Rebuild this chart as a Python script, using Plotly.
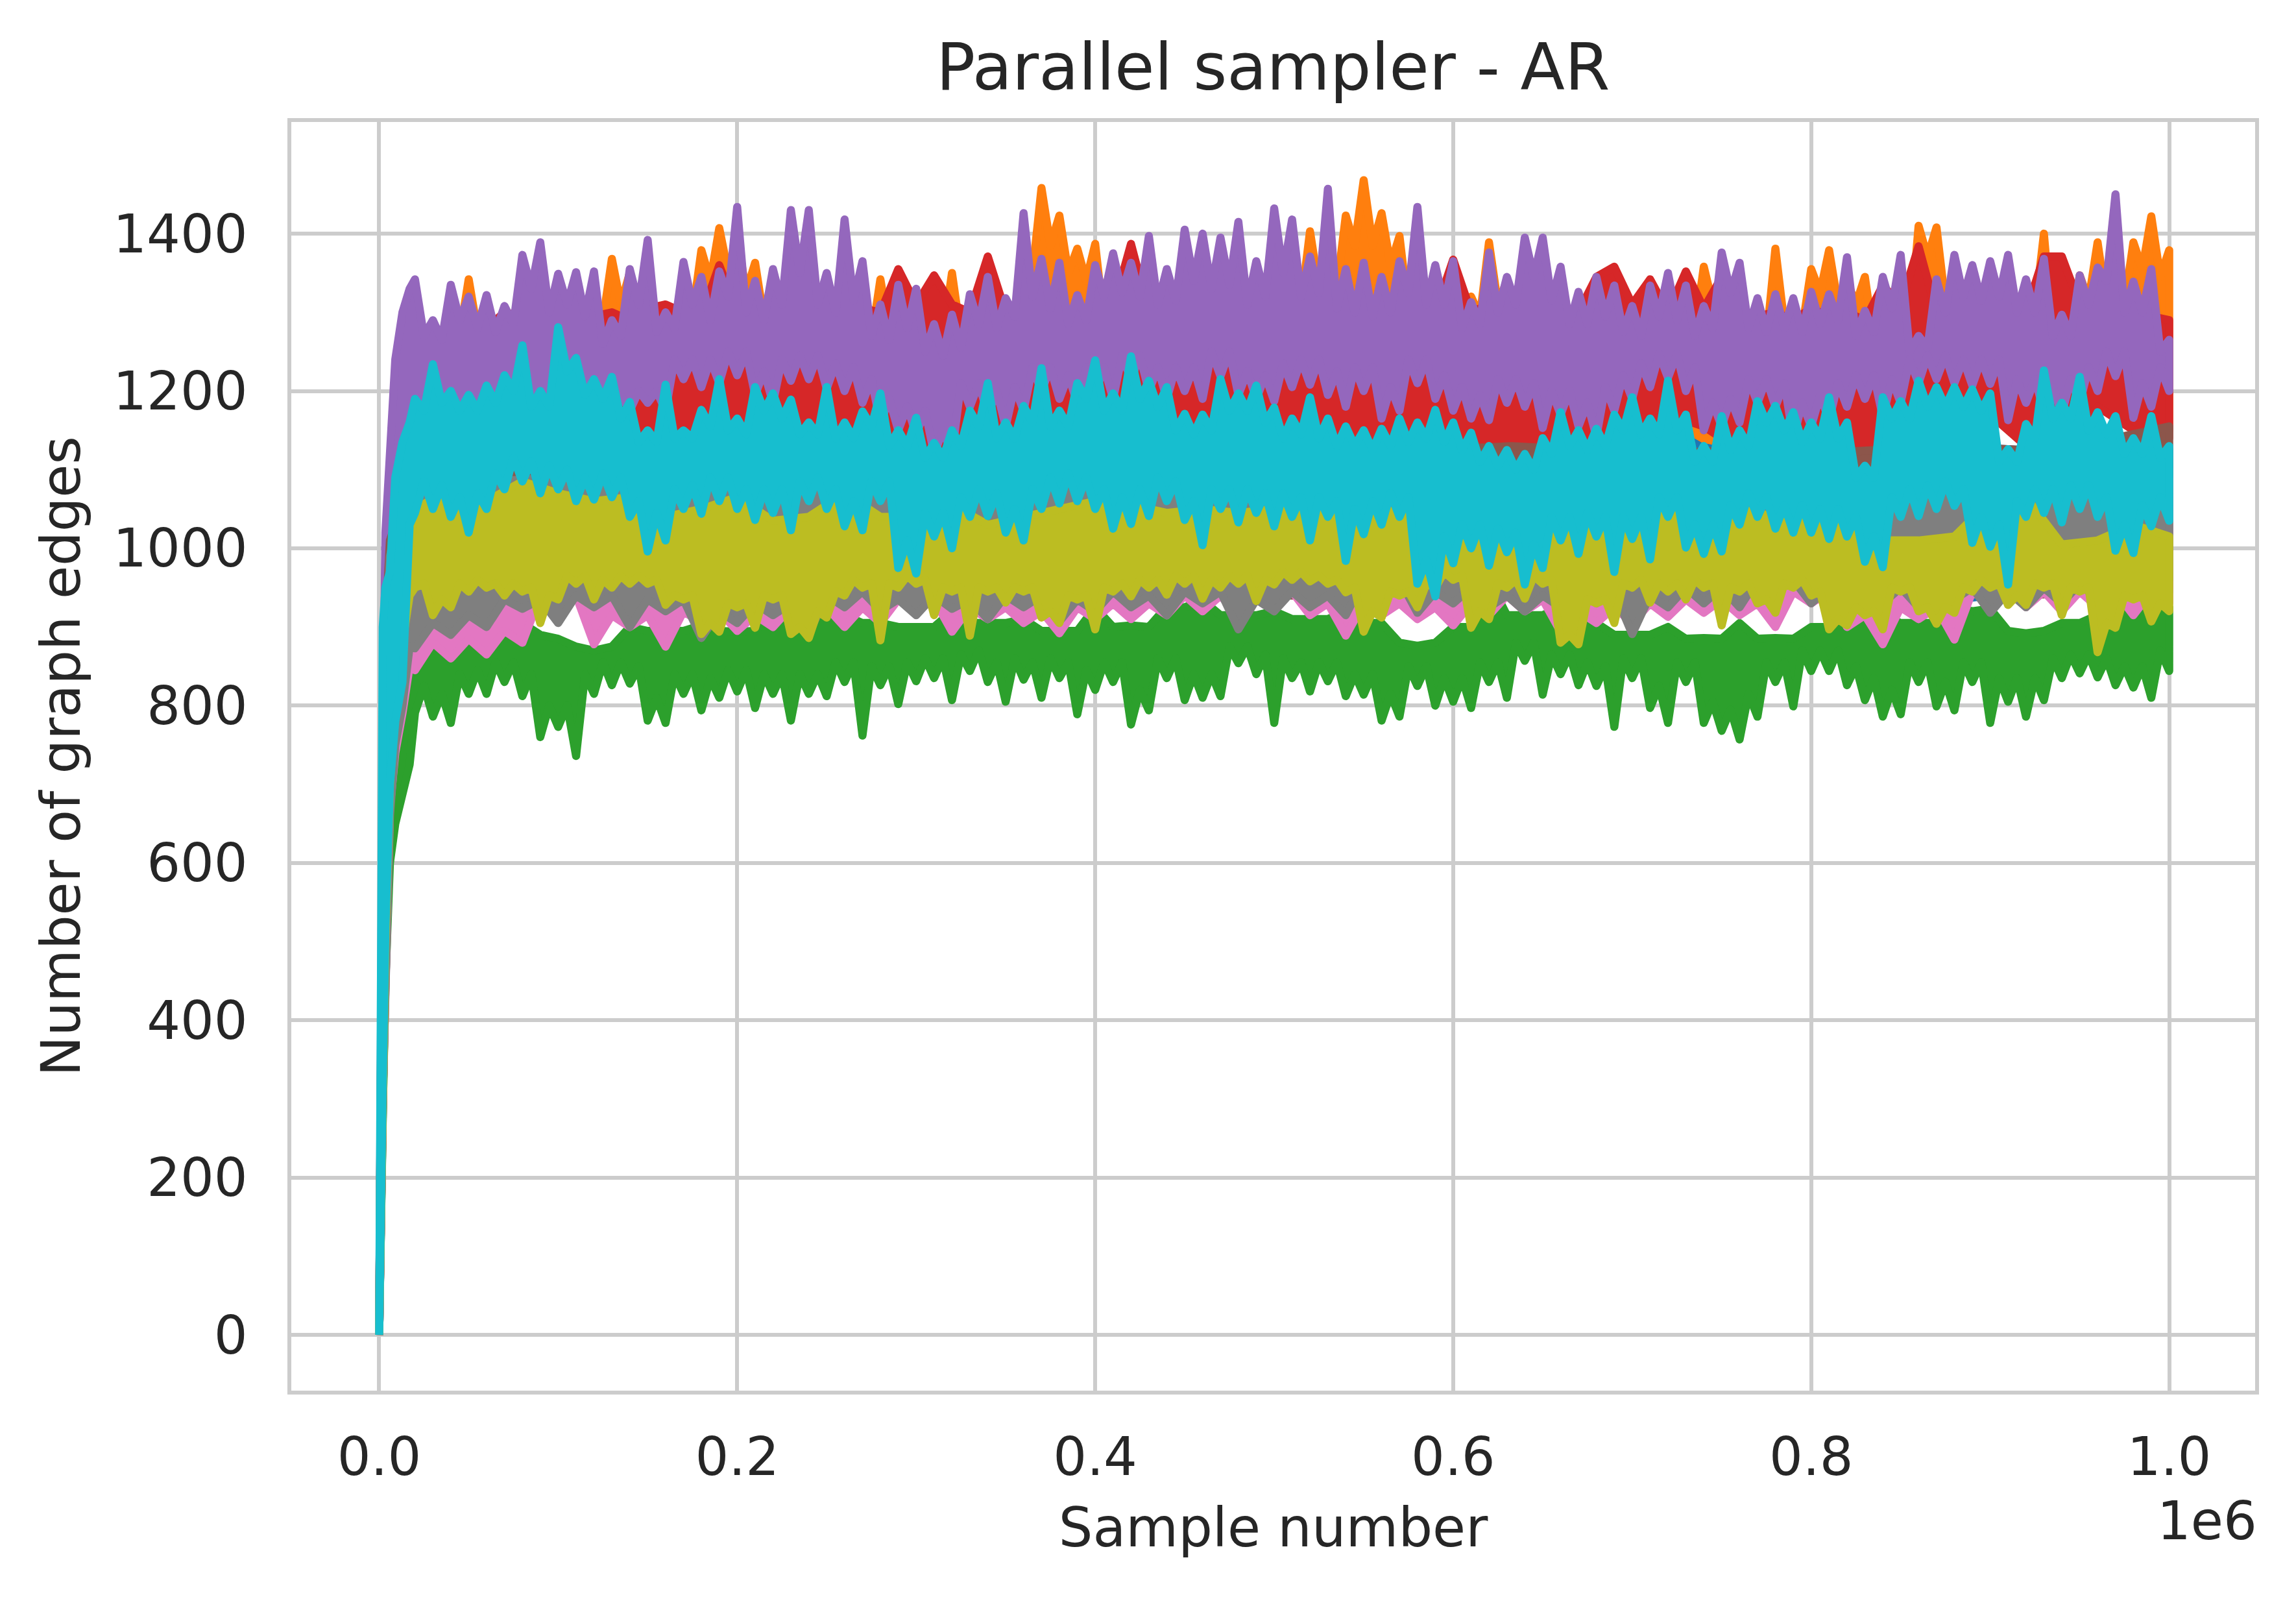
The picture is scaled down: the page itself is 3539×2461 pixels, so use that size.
import numpy as np
import plotly.graph_objects as go

rise_x = [0, 1000, 2000, 3500, 6000, 9000, 13000, 17000]
rise_down_x = [17000, 13000, 9000, 6000, 3500, 2000, 1000, 0]
x_ticks = [0, 200000, 400000, 600000, 800000, 1000000]
x_labels = ["0.0", "0.2", "0.4", "0.6", "0.8", "1.0"]
y_ticks = [0, 200, 400, 600, 800, 1000, 1200, 1400]

blue_rise_up = [0, 380, 640, 820, 960, 1040, 1090, 1110]
blue_rise_down = [850, 780, 730, 660, 480, 300, 150, 0]
blue_high = [1110, 1120, 1125, 1115, 1120, 1130, 1125, 1120, 1130, 1125, 1115, 1120, 1125, 1130, 1120, 1130, 1125, 1120, 1160, 1125, 1120, 1130, 1125, 1135, 1125]
blue_low = [925, 930, 945, 940, 950, 945, 940, 950, 945, 934, 945, 950, 940, 945, 950, 945, 940, 950, 945, 950, 940, 934, 945, 950, 945]

orange_rise_up = [0, 420, 700, 900, 1050, 1150, 1240, 1280]
orange_rise_down = [1130, 1000, 860, 720, 520, 320, 160, 0]
orange_high = [1290, 1285, 1300, 1342, 1300, 1302, 1310, 1320, 1300, 1305,
               1320, 1368, 1350, 1310, 1300, 1330, 1379, 1407, 1397, 1363,
               1320, 1300, 1290, 1305, 1300, 1295, 1342, 1305, 1295, 1300,
               1350, 1300, 1290, 1300, 1381, 1458, 1423, 1381, 1387, 1310,
               1320, 1300, 1340, 1376, 1370, 1320, 1375, 1345, 1330, 1340,
               1403, 1360, 1423, 1468, 1426, 1397, 1330, 1300, 1310, 1320,
               1389, 1340, 1320, 1310, 1300, 1290, 1300, 1295, 1290, 1285,
               1290, 1300, 1358, 1340, 1300, 1290, 1381, 1310, 1355, 1379,
               1340, 1345, 1295, 1300, 1410, 1408, 1340, 1340, 1315, 1350,
               1330, 1400, 1300, 1347, 1389, 1340, 1389, 1422, 1379]
orange_high_dips = [1255, 1260, 1270, 1275, 1270, 1275, 1280, 1270, 1270,
                    1280, 1290, 1310, 1280, 1270, 1270, 1295, 1340, 1350, 1325,
                    1290, 1270, 1260, 1260, 1270, 1265, 1265, 1275, 1265, 1265,
                    1270, 1270, 1260, 1260, 1275, 1350, 1385, 1350, 1340, 1285,
                    1280, 1270, 1270, 1310, 1330, 1290, 1295, 1315, 1300, 1300,
                    1310, 1330, 1330, 1385, 1385, 1360, 1300, 1270, 1270, 1280,
                    1295, 1310, 1290, 1280, 1270, 1260, 1260, 1265, 1260, 1255,
                    1255, 1260, 1275, 1310, 1270, 1260, 1265, 1285, 1280, 1325,
                    1310, 1310, 1265, 1265, 1275, 1370, 1310, 1305, 1285, 1285,
                    1300, 1300, 1270, 1270, 1315, 1310, 1310, 1355, 1345]
orange_low = [1150, 1160, 1140, 1135, 1130, 1140, 1125, 1130, 1140, 1135,
              1130, 1125, 1135, 1140, 1130, 1125, 1135, 1140, 1130, 1140,
              1135, 1130, 1125, 1135, 1155, 1140, 1130, 1135, 1128, 1135,
              1130, 1125, 1155, 1140, 1130, 1165, 1139, 1130, 1135, 1125,
              1130, 1135, 1140, 1130, 1170, 1135, 1130, 1185, 1160, 1150]

green_rise_up = [0, 300, 500, 620, 700, 760, 800, 835]
green_rise_down = [725, 690, 650, 600, 450, 280, 140, 0]
green_high = [860, 895, 918, 905, 885, 870, 900, 895, 902, 894, 918, 925, 915, 905, 900, 920, 905, 910,
              895, 925, 902, 926, 934, 915, 920, 910, 920, 905, 876, 900, 960, 915, 925, 905, 890, 900,
              886, 905, 886, 900, 934, 915, 905, 925, 923, 892, 905, 915, 920, 925]
green_high_dips = [870, 900, 905, 890, 875, 875, 895, 895, 895, 895, 915, 915, 905, 900, 900, 905, 905,
                   895, 895, 900, 900, 925, 915, 915, 910, 910, 905, 880, 880, 900, 915, 915, 905,
                   890, 890, 885, 885, 885, 885, 900, 915, 905, 905, 920, 895, 895, 905, 915, 920]
green_low = [791, 786, 778, 815, 815, 830, 812, 760, 773, 736,
             815, 826, 828, 781, 778, 815, 794, 810, 818, 797,
             815, 781, 815, 812, 830, 762, 826, 802, 831, 835,
             807, 844, 830, 805, 833, 810, 835, 789, 820, 830,
             776, 794, 835, 807, 810, 812, 854, 840, 778, 835,
             818, 831, 812, 814, 781, 786, 825, 800, 805, 797,
             830, 810, 857, 814, 840, 826, 825, 773, 835, 797,
             778, 830, 778, 768, 757, 786, 830, 799, 844, 844,
             826, 807, 786, 789, 830, 799, 794, 830, 778, 805,
             786, 807, 835, 841, 836, 826, 823, 810, 844]
green_low_rises = [825, 815, 840, 845, 855, 855, 840, 800, 800,
                   840, 855, 855, 850, 810, 840, 840, 835, 845, 845,
                   840, 840, 840, 840, 855, 855, 850, 850, 855, 860,
                   860, 865, 870, 855, 860, 855, 860, 855, 845, 855,
                   855, 820, 860, 860, 840, 840, 875, 875, 865, 860,
                   855, 855, 855, 840, 840, 815, 850, 850, 835, 835,
                   855, 855, 880, 880, 865, 865, 855, 850, 860, 860,
                   825, 855, 855, 805, 795, 815, 855, 855, 870, 870,
                   870, 850, 835, 820, 855, 855, 830, 855, 855, 835,
                   835, 835, 860, 865, 865, 860, 850, 850, 870]

red_rise_up = [0, 400, 680, 880, 1030, 1130, 1220, 1250]
red_rise_down = [1080, 980, 840, 700, 500, 310, 150, 0]
red_high = [1260, 1275, 1270, 1290, 1280, 1300, 1295, 1305, 1290, 1285,
            1295, 1300, 1290, 1305, 1310, 1300, 1295, 1360, 1300, 1290,
            1295, 1285, 1290, 1300, 1290, 1305, 1300, 1355, 1310, 1347,
            1310, 1300, 1371, 1300, 1310, 1290, 1300, 1295, 1310, 1305,
            1387, 1300, 1295, 1310, 1305, 1300, 1290, 1295, 1300, 1310,
            1300, 1310, 1305, 1295, 1300, 1305, 1310, 1300, 1367, 1300,
            1310, 1295, 1300, 1305, 1295, 1300, 1345, 1358, 1310, 1342,
            1300, 1352, 1305, 1345, 1300, 1295, 1300, 1290, 1305, 1295,
            1300, 1290, 1334, 1310, 1384, 1300, 1305, 1334, 1300, 1295,
            1300, 1371, 1371, 1310, 1305, 1320, 1300, 1295, 1290]
red_low = [1085, 1095, 1100, 1065, 1100, 1095, 1105, 1100, 1115, 1120,
           1110, 1105, 1120, 1115, 1100, 1090, 1105, 1110, 1120, 1125,
           1140, 1125, 1115, 1120, 1110, 1115, 1120, 1115, 1125, 1120,
           1115, 1105, 1120, 1110, 1125, 1170, 1155, 1125, 1130, 1120,
           1125, 1105, 1110, 1125, 1170, 1130, 1125, 1180, 1150, 1140]

purple_rise_up = [0, 450, 760, 1020, 1110, 1240, 1300, 1330]
purple_rise_down = [1120, 1020, 860, 720, 520, 320, 160, 0]
purple_high = [1342, 1290, 1335, 1320, 1322, 1308, 1373, 1389, 1349, 1351,
               1352, 1290, 1355, 1392, 1300, 1364, 1345, 1352, 1434, 1340,
               1355, 1430, 1430, 1350, 1418, 1365, 1310, 1335, 1330, 1285,
               1297, 1323, 1345, 1318, 1426, 1368, 1363, 1322, 1360, 1375,
               1363, 1397, 1355, 1405, 1400, 1395, 1415, 1365, 1432, 1418,
               1371, 1457, 1355, 1363, 1345, 1365, 1434, 1360, 1365, 1313,
               1376, 1345, 1395, 1395, 1358, 1326, 1345, 1334, 1308, 1334,
               1350, 1334, 1308, 1376, 1363, 1318, 1323, 1318, 1326, 1323,
               1370, 1302, 1345, 1373, 1270, 1342, 1373, 1360, 1365, 1373,
               1342, 1368, 1297, 1347, 1357, 1450, 1339, 1355, 1265]
purple_high_dips = [1270, 1265, 1290, 1280, 1275, 1285, 1330, 1300, 1310,
                    1295, 1260, 1270, 1310, 1275, 1280, 1310, 1290, 1320, 1300,
                    1290, 1310, 1350, 1310, 1300, 1315, 1270, 1265, 1280, 1250,
                    1245, 1255, 1285, 1280, 1295, 1320, 1305, 1285, 1290, 1320,
                    1325, 1320, 1310, 1315, 1340, 1330, 1335, 1310, 1320, 1350,
                    1320, 1325, 1305, 1300, 1295, 1300, 1325, 1310, 1310, 1280,
                    1285, 1300, 1310, 1345, 1315, 1285, 1285, 1295, 1275, 1270,
                    1295, 1290, 1270, 1280, 1325, 1280, 1275, 1280, 1275, 1285,
                    1290, 1270, 1275, 1305, 1250, 1255, 1300, 1320, 1315, 1320,
                    1300, 1300, 1270, 1270, 1310, 1340, 1300, 1300, 1250]
purple_low = [1170, 1175, 1170, 1180, 1175, 1180, 1170, 1175, 1165, 1180,
              1185, 1180, 1175, 1185, 1175, 1215, 1205, 1210, 1220, 1195,
              1185, 1213, 1215, 1203, 1200, 1185, 1160, 1150, 1145, 1120,
              1120, 1180, 1170, 1155, 1175, 1200, 1190, 1185, 1198, 1190,
              1215, 1200, 1190, 1200, 1190, 1219, 1195, 1190, 1187, 1205,
              1208, 1195, 1180, 1200, 1165, 1175, 1210, 1190, 1175, 1165,
              1163, 1185, 1180, 1153, 1170, 1155, 1142, 1175, 1190, 1205,
              1217, 1200, 1150, 1155, 1160, 1185, 1180, 1140, 1155, 1163,
              1180, 1190, 1167, 1185, 1210, 1215, 1210, 1207, 1209, 1163,
              1185, 1175, 1171, 1185, 1200, 1219, 1166, 1180, 1200]
purple_low_rises = [1190, 1185, 1195, 1195, 1195, 1195, 1190, 1190, 1195,
                    1200, 1200, 1195, 1200, 1200, 1240, 1240, 1240, 1250, 1250,
                    1225, 1240, 1245, 1245, 1235, 1230, 1215, 1190, 1180, 1175,
                    1150, 1210, 1210, 1200, 1205, 1230, 1230, 1220, 1230, 1230,
                    1245, 1245, 1230, 1230, 1230, 1250, 1250, 1225, 1220, 1235,
                    1240, 1240, 1225, 1230, 1230, 1205, 1240, 1240, 1220, 1205,
                    1195, 1215, 1215, 1210, 1200, 1200, 1185, 1205, 1220, 1235,
                    1247, 1247, 1230, 1185, 1190, 1215, 1215, 1210, 1185, 1195,
                    1210, 1220, 1220, 1215, 1240, 1245, 1245, 1240, 1240, 1240,
                    1215, 1215, 1205, 1215, 1230, 1250, 1250, 1210, 1230]

brown_rise_up = [0, 410, 690, 900, 1010, 1030, 1060, 1090]
brown_rise_down = [900, 830, 760, 680, 490, 300, 150, 0]
brown_high = [1100, 1120, 1125, 1110, 1130, 1125, 1120, 1115, 1130, 1125, 1120, 1125, 1130, 1120, 1125, 1130, 1125, 1120, 1125, 1120, 1125, 1130, 1125, 1135, 1155]
brown_low = [880, 886, 945, 935, 950, 945, 940, 950, 945, 940, 950, 945, 940, 950, 945, 940, 950, 945, 935, 950, 945, 950, 940, 945, 950]

pink_rise_up = [0, 390, 650, 840, 960, 1000, 1030, 1060]
pink_rise_down = [850, 790, 740, 670, 480, 300, 150, 0]
pink_high = [1060, 1070, 1080, 1075, 1085, 1090, 1080, 1085, 1090, 1085, 1095, 1090, 1085, 1100, 1110, 1100, 1105, 1095, 1100, 1090, 1095, 1090, 1100, 1095, 1090]
pink_low = [845, 860, 865, 880, 925, 878, 900, 875, 905, 895,
            900, 905, 900, 905, 920, 894, 910, 905, 892, 910,
            910, 915, 920, 915, 925, 915, 889, 915, 910, 902,
            915, 920, 894, 905, 905, 913, 918, 915, 900, 930,
            900, 878, 910, 884, 930, 925, 920, 925, 915, 930]
pink_low_rises = [880, 885, 895, 940, 940, 915, 915, 920, 920, 915, 925, 925, 925, 935, 935, 925, 925,
                  920, 925, 930, 930, 940, 940, 945, 945, 930, 930, 930, 925, 930, 940, 935, 920,
                  925, 930, 935, 935, 930, 945, 945, 915, 925, 925, 945, 950, 945, 945, 945, 945]

gray_rise_up = [0, 400, 660, 850, 990, 1020, 1050, 1070]
gray_rise_down = [875, 800, 750, 660, 480, 300, 150, 0]
gray_high = [1070, 1085, 1090, 1080, 1075, 1085, 1080, 1070, 1085, 1080, 1075, 1070, 1080, 1085, 1075, 1080, 1070, 1075, 1080, 1075, 1085, 1090, 1070, 1085, 1100]
gray_low = [873, 890, 900, 923, 905, 925, 900, 920, 886, 905,
            915, 892, 925, 921, 915, 923, 910, 925, 907, 920,
            925, 915, 930, 897, 920, 925, 915, 942, 918, 930,
            925, 920, 925, 930, 891, 925, 930, 925, 944, 930,
            925, 930, 925, 935, 918, 925, 930, 935, 945, 960]
gray_low_rises = [905, 915, 935, 935, 940, 940, 935, 935, 920, 930, 930, 940, 945, 935, 940, 935, 940,
                  940, 935, 945, 940, 945, 945, 935, 945, 940, 960, 960, 945, 950, 940, 940, 950,
                  945, 940, 950, 950, 960, 960, 950, 950, 950, 955, 950, 945, 950, 955, 965, 975]

olive_rise_up = [0, 390, 650, 820, 900, 930, 960, 1000]
olive_rise_down = [940, 880, 800, 700, 500, 310, 150, 0]
olive_high = [1050, 1075, 1060, 1085, 1070, 1060, 1065, 1040, 1050, 1065,
              1035, 1040, 1070, 1040, 1040, 1055, 1030, 1040, 1050, 1060,
              1055, 1045, 1050, 1045, 1050, 1050, 1040, 1050, 1040, 1040,
              1045, 1035, 1050, 1040, 1050, 1045, 1040, 1050, 1040, 1050,
              1045, 1010, 1010, 1015, 1060, 1065, 1005, 1010, 1030, 1015]
olive_low = [950, 915, 925, 945, 950, 940, 945, 905, 935, 955,
             935, 950, 955, 955, 928, 935, 891, 894, 925, 899,
             935, 891, 886, 912, 940, 950, 883, 950, 955, 915,
             945, 889, 945, 931, 945, 912, 905, 935, 897, 945,
             939, 950, 941, 955, 936, 950, 955, 933, 954, 960,
             958, 955, 944, 894, 912, 940, 925, 950, 960, 899,
             910, 950, 936, 955, 880, 878, 930, 905, 950, 931,
             945, 935, 950, 902, 945, 930, 918, 950, 940, 897,
             902, 915, 897, 945, 920, 904, 918, 945, 950, 928,
             928, 950, 915, 945, 868, 899, 935, 907, 920]
olive_low_rises = [955, 935, 955, 960, 955, 955, 950, 940, 965,
                   965, 960, 965, 965, 960, 940, 940, 905, 930, 930,
                   940, 940, 900, 920, 945, 960, 955, 955, 965, 960,
                   950, 950, 950, 950, 950, 950, 920, 940, 940, 950,
                   955, 960, 960, 965, 965, 960, 965, 965, 960, 970,
                   970, 965, 960, 950, 920, 945, 945, 955, 970, 965,
                   920, 955, 960, 965, 960, 890, 935, 935, 955, 960,
                   955, 955, 960, 955, 950, 955, 935, 955, 960, 945,
                   910, 925, 920, 950, 950, 925, 925, 950, 960, 955,
                   940, 955, 955, 950, 950, 905, 940, 940, 930]

cyan_rise_up = [0, 520, 900, 950, 970, 1090, 1135, 1160]
cyan_rise_down = [1030, 830, 780, 700, 520, 320, 160, 0]
cyan_high = [1190, 1234, 1200, 1195, 1207, 1220, 1258, 1200, 1281, 1242,
             1215, 1218, 1186, 1150, 1208, 1150, 1176, 1215, 1165, 1205,
             1197, 1189, 1160, 1205, 1160, 1174, 1197, 1150, 1166, 1134,
             1150, 1175, 1210, 1160, 1181, 1229, 1175, 1210, 1239, 1197,
             1244, 1213, 1205, 1171, 1170, 1215, 1197, 1207, 1179, 1165,
             1192, 1165, 1155, 1150, 1152, 1165, 1160, 1176, 1160, 1147,
             1130, 1125, 1120, 1140, 1173, 1150, 1152, 1170, 1192, 1165,
             1213, 1170, 1130, 1168, 1150, 1187, 1181, 1173, 1160, 1192,
             1160, 1105, 1192, 1187, 1213, 1205, 1205, 1202, 1197, 1126,
             1158, 1226, 1185, 1218, 1173, 1168, 1140, 1168, 1130]
cyan_high_dips = [1175, 1185, 1175, 1175, 1185, 1200, 1180, 1180, 1225,
                  1195, 1190, 1165, 1135, 1135, 1140, 1140, 1155, 1150, 1145,
                  1175, 1165, 1145, 1145, 1140, 1140, 1155, 1130, 1130, 1115,
                  1115, 1130, 1155, 1140, 1140, 1160, 1155, 1155, 1190, 1175,
                  1175, 1190, 1180, 1150, 1145, 1150, 1175, 1175, 1160, 1140,
                  1145, 1140, 1130, 1130, 1125, 1130, 1135, 1140, 1135, 1125,
                  1110, 1105, 1100, 1100, 1120, 1130, 1125, 1130, 1150, 1145,
                  1145, 1150, 1110, 1110, 1125, 1130, 1160, 1150, 1135, 1140,
                  1140, 1090, 1090, 1165, 1165, 1180, 1180, 1180, 1175, 1110,
                  1110, 1140, 1165, 1165, 1150, 1145, 1120, 1120, 1115]
cyan_low = [1045, 1050, 1040, 1020, 1050, 1075, 1085, 1070, 1075, 1060,
            1062, 1065, 1040, 996, 1010, 1050, 1044, 1060, 1050, 1036,
            1045, 1023, 1060, 1050, 1028, 1023, 1060, 975, 968, 1015,
            1000, 1040, 1041, 1020, 1010, 1050, 1057, 1060, 1050, 1025,
            1031, 1041, 1060, 1036, 1004, 1050, 1033, 1045, 1028, 1040,
            1010, 1040, 984, 1018, 1030, 1040, 955, 939, 981, 1000,
            978, 995, 954, 975, 1010, 993, 1015, 970, 1012, 986,
            1040, 1001, 993, 996, 1030, 1040, 1025, 1020, 1020, 1012,
            1015, 983, 976, 1040, 1041, 1050, 1054, 1007, 1002, 954,
            1040, 1045, 1033, 1050, 1040, 997, 994, 1028, 1035]
cyan_low_rises = [1085, 1080, 1065, 1070, 1095, 1115, 1110, 1105, 1100,
                  1090, 1095, 1090, 1060, 1045, 1075, 1080, 1090, 1090, 1075,
                  1075, 1075, 1085, 1090, 1075, 1060, 1085, 1085, 1010, 1045,
                  1045, 1065, 1075, 1070, 1050, 1075, 1090, 1095, 1090, 1075,
                  1065, 1075, 1090, 1085, 1060, 1075, 1075, 1075, 1070, 1070,
                  1065, 1065, 1060, 1050, 1060, 1070, 1065, 985, 1015, 1030,
                  1030, 1025, 1020, 1005, 1040, 1040, 1045, 1040, 1040, 1040,
                  1065, 1065, 1030, 1030, 1055, 1070, 1065, 1055, 1055, 1050,
                  1050, 1040, 1015, 1065, 1075, 1080, 1085, 1075, 1040, 1030,
                  1060, 1075, 1075, 1080, 1080, 1065, 1030, 1055, 1065]


def weave(tips, between):
    out = []
    for a, b in zip(tips, between):
        out += [a, b]
    return out + [tips[-1]]


series = [
    ("#1f77b4", blue_rise_up, blue_high, blue_low, blue_rise_down),
    ("#ff7f0e", orange_rise_up, weave(orange_high, orange_high_dips), orange_low, orange_rise_down),
    ("#2ca02c", green_rise_up, weave(green_high, green_high_dips), weave(green_low, green_low_rises), green_rise_down),
    ("#d62728", red_rise_up, red_high, red_low, red_rise_down),
    ("#9467bd", purple_rise_up, weave(purple_high, purple_high_dips), weave(purple_low, purple_low_rises), purple_rise_down),
    ("#8c564b", brown_rise_up, brown_high, brown_low, brown_rise_down),
    ("#e377c2", pink_rise_up, pink_high, weave(pink_low, pink_low_rises), pink_rise_down),
    ("#7f7f7f", gray_rise_up, gray_high, weave(gray_low, gray_low_rises), gray_rise_down),
    ("#bcbd22", olive_rise_up, olive_high, weave(olive_low, olive_low_rises), olive_rise_down),
    ("#17becf", cyan_rise_up, weave(cyan_high, cyan_high_dips), weave(cyan_low, cyan_low_rises), cyan_rise_down),
]

fig = go.Figure()
for color, up, high, low, down in series:
    xs = (rise_x + list(np.linspace(20000, 1000000, len(high)))
          + list(np.linspace(1000000, 20000, len(low))) + rise_down_x)
    ys = up + high + low[::-1] + down
    fig.add_trace(go.Scatter(x=xs, y=ys, mode="lines", fill="toself", fillcolor=color,
                             line=dict(color=color, width=12.5), hoverinfo="skip", showlegend=False))

INK = "#262626"
GRID = "#cccccc"
FONT = "DejaVu Sans"
axis = dict(showgrid=True, gridcolor=GRID, gridwidth=6, showline=True, linecolor=GRID, linewidth=6,
            mirror=True, zeroline=False, automargin=False, ticks="outside", tickcolor="rgba(0,0,0,0)", tickwidth=1,
            tickfont=dict(family=FONT, size=81.5, color=INK))

fig.update_layout(
    width=3539, height=2461, paper_bgcolor="white", plot_bgcolor="white", showlegend=False,
    margin=dict(l=440.5, r=70.5, t=180, b=326),
    title=dict(text="Parallel sampler - AR", x=0.5522, xanchor="center", y=0.9614, yanchor="middle",
               font=dict(family=FONT, size=100, color=INK)),
    xaxis=dict(axis, ticklen=26, range=[-49094, 1048007], tickmode="array", tickvals=x_ticks, ticktext=x_labels,
               title=dict(text="Sample number", standoff=36, font=dict(family=FONT, size=83, color=INK))),
    yaxis=dict(axis, ticklen=45, range=[-70.9, 1542], tickmode="array", tickvals=y_ticks,
               title=dict(text="Number of graph edges", standoff=25, font=dict(family=FONT, size=83, color=INK))),
    annotations=[dict(text="1e6", xref="paper", yref="paper", x=1.0015, y=-0.1025, xanchor="right",
                      yanchor="middle", showarrow=False, font=dict(family=FONT, size=81.5, color=INK))],
)

fig.write_html("out.html", post_script="document.querySelectorAll('.js-line').forEach(function(p){p.style.strokeLinejoin='round';});")
